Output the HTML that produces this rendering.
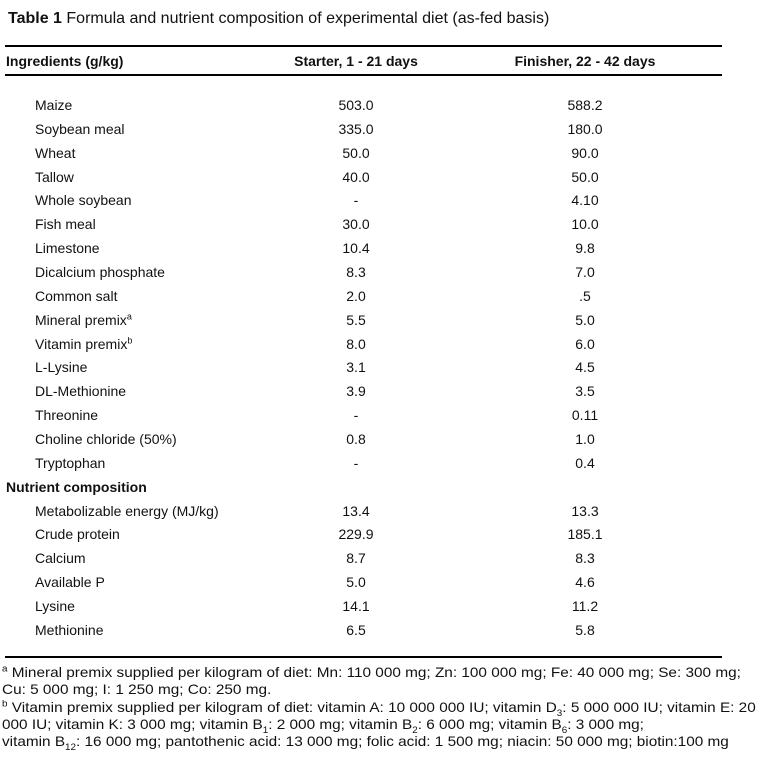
<!DOCTYPE html>
<html><head><meta charset="utf-8"><style>
body{margin:0;width:769px;height:765px;background:#fff;position:relative;overflow:hidden;font-family:"Liberation Sans",Arial,sans-serif;color:#111;}
.t{position:absolute;white-space:nowrap;font-size:14px;line-height:16px;}
.c1{left:35px}
.c2{width:160px;margin-left:-80px;left:356px;text-align:center}
.c3{width:160px;margin-left:-80px;left:585px;text-align:center}
.rule{position:absolute;left:5px;width:717px;height:2px;background:#000}
.fn{position:absolute;left:2px;font-size:14px;line-height:17.3px;white-space:nowrap;transform-origin:0 0;transform:scaleX(1.095);}
sup,sub{font-size:9px;line-height:0}
</style></head><body>
<div class="t" style="left:8px;top:10px;font-size:16px;line-height:18px"><b>Table 1</b> Formula and nutrient composition of experimental diet (as-fed basis)</div>
<div class="rule" style="top:45px"></div>
<div class="t" style="left:6px;top:53px;font-weight:bold">Ingredients (g/kg)</div>
<div class="t c2" style="top:53px;font-weight:bold">Starter, 1 - 21 days</div>
<div class="t c3" style="top:53px;font-weight:bold">Finisher, 22 - 42 days</div>
<div class="rule" style="top:74px"></div>
<div id="rows"></div>
<div class="rule" style="top:656px"></div>
<div class="fn" style="top:664px"><sup>a</sup> Mineral premix supplied per kilogram of diet: Mn: 110 000 mg; Zn: 100 000 mg; Fe: 40 000 mg; Se: 300 mg;<br>Cu: 5 000 mg; I: 1 250 mg; Co: 250 mg.<br><sup>b</sup> Vitamin premix supplied per kilogram of diet: vitamin A: 10 000 000 IU; vitamin D<sub>3</sub>: 5 000 000 IU; vitamin E: 20<br>000 IU; vitamin K: 3 000 mg; vitamin B<sub>1</sub>: 2 000 mg; vitamin B<sub>2</sub>: 6 000 mg; vitamin B<sub>6</sub>: 3 000 mg;<br>vitamin B<sub>12</sub>: 16 000 mg; pantothenic acid: 13 000 mg; folic acid: 1 500 mg; niacin: 50 000 mg; biotin:100 mg</div>
<script>
const names=["Maize","Soybean meal","Wheat","Tallow","Whole soybean","Fish meal","Limestone","Dicalcium phosphate","Common salt","Mineral premix<sup>a</sup>","Vitamin premix<sup>b</sup>","L-Lysine","DL-Methionine","Threonine","Choline chloride (50%)","Tryptophan","#Nutrient composition","Metabolizable energy (MJ/kg)","Crude protein","Calcium","Available P","Lysine","Methionine"];
const starter=["503.0","335.0","50.0","40.0","-","30.0","10.4","8.3","2.0","5.5","8.0","3.1","3.9","-","0.8","-","","13.4","229.9","8.7","5.0","14.1","6.5"];
const finisher=["588.2","180.0","90.0","50.0","4.10","10.0","9.8","7.0",".5","5.0","6.0","4.5","3.5","0.11","1.0","0.4","","13.3","185.1","8.3","4.6","11.2","5.8"];
const root=document.getElementById('rows');
names.forEach((n,i)=>{
  const top=97+i*23.86;
  const a=document.createElement('div');
  a.className='t c1';
  a.style.top=top+'px';
  if(n[0]==='#'){a.style.left='6px';a.style.fontWeight='bold';a.innerHTML=n.slice(1);}
  else a.innerHTML=n;
  
  
  root.appendChild(a);
  const b=document.createElement('div');
  b.className='t c2';b.style.top=top+'px';b.textContent=starter[i];
  
  
  root.appendChild(b);
  const c=document.createElement('div');
  c.className='t c3';c.style.top=top+'px';c.textContent=finisher[i];
  
  
  root.appendChild(c);
});
</script>
</body></html>
